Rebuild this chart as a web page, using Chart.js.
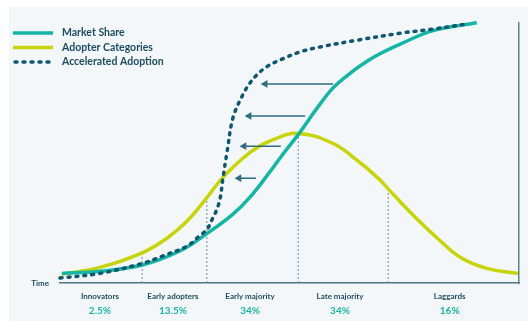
<!DOCTYPE html>
<html>
<head>
<meta charset="utf-8">
<script src="https://cdn.jsdelivr.net/npm/chart.js@4.4.0/dist/chart.umd.min.js"></script>
<style>
  html, body { margin: 0; padding: 0; background: #ffffff; }
  #panel { position: absolute; left: 9px; top: 7px; width: 519px; height: 314px; background: #f3f7f9; }
</style>
</head>
<body>
<div id="panel"><canvas id="adoptionChart" width="519" height="314"></canvas></div>
<script>
// time runs 0..100 along the x axis, share 0..100 up the y axis
const categories = ['Innovators', 'Early adopters', 'Early majority', 'Late majority', 'Laggards'];
const categoryShares = ['2.5%', '13.5%', '34%', '34%', '16%'];
const categoryCenters = [8.7, 24.6, 41.4, 61.0, 84.9];

const dividerTimes = [17.9, 32.0, 51.9, 71.5];
const dividerHeights = [11.6, 32.8, 57.5, 36.2];

const adopterTime = [0.4, 8.7, 17.9, 23.3, 27.7, 32.0, 35.5, 41.4, 45.8, 51.9, 59.5, 64.7, 69.3, 71.7, 76.3, 82.1, 87.1, 93.0, 99.8];
const adopterValues = [3.4, 6.0, 11.6, 17.2, 23.8, 32.8, 40.6, 50.2, 54.6, 57.5, 53.6, 47.2, 40.3, 35.8, 27.2, 17.4, 10.0, 5.6, 3.7];

const shareTime = [0.4, 8.7, 17.9, 26.1, 32.0, 37.7, 41.4, 45.8, 48.6, 52.1, 56.0, 59.5, 63.2, 66.9, 69.7, 74.1, 81.3, 90.8];
const shareValues = [3.7, 4.5, 6.9, 12.3, 19.0, 26.5, 33.0, 42.9, 49.6, 57.5, 67.2, 75.0, 80.6, 85.2, 88.1, 91.8, 97.0, 100];

const acceleratedTime = [0, 8.7, 17.9, 22.4, 27.7, 30.5, 32.0, 33.3, 34.2, 34.9, 35.5, 36.4, 37.7, 39.9, 41.4, 42.9, 45.1, 48.6, 52.3, 56.6, 64.7, 74.1, 81.3, 87.8];
const acceleratedValues = [1.9, 3.7, 7.5, 10.4, 14.2, 18.3, 20.5, 25.0, 28.4, 32.6, 40.3, 50.4, 63.6, 72.6, 76.9, 80.0, 83.2, 86.2, 88.8, 90.7, 93.3, 96.0, 97.6, 99.3];

// arrows: head (left) and tail (right) at a given level
const arrowHeads = [44.7, 41.2, 40.1, 39.0];
const arrowTails = [59.5, 53.4, 48.1, 42.7];
const arrowLevels = [76.5, 64.2, 52.6, 40.3];

const TEAL = '#14b5a5';
const LIME = '#c8d40a';
const DARK = '#0f5670';
const ARROW = '#2f6c80';
const TEXT = '#1e4d63';

const toPoints = (xs, ys) => xs.map((x, i) => ({ x, y: ys[i] }));

const datasets = [
  {
    label: 'Market Share',
    data: toPoints(shareTime, shareValues),
    borderColor: TEAL,
    borderWidth: 3.5,
    tension: 0.4,
    pointRadius: 0,
    clip: false,
    order: 2
  },
  {
    label: 'Adopter Categories',
    data: toPoints(adopterTime, adopterValues),
    borderColor: LIME,
    borderWidth: 3.5,
    tension: 0.4,
    pointRadius: 0,
    clip: false,
    order: 3
  },
  {
    label: 'Accelerated Adoption',
    data: toPoints(acceleratedTime, acceleratedValues),
    borderColor: DARK,
    borderWidth: 3.5,
    borderDash: [2, 6],
    borderCapStyle: 'round',
    tension: 0.35,
    pointRadius: 0,
    clip: false,
    order: 1
  }
];

dividerTimes.forEach((t, i) => {
  datasets.push({
    label: 'divider',
    data: [{ x: t, y: 0 }, { x: t, y: dividerHeights[i] }],
    borderColor: '#6b8e9b',
    borderWidth: 1,
    borderDash: [2, 2],
    pointRadius: 0,
    order: 4
  });
});

arrowHeads.forEach((h, i) => {
  datasets.push({
    label: 'arrow',
    data: [{ x: h, y: arrowLevels[i] }, { x: arrowTails[i], y: arrowLevels[i] }],
    borderColor: ARROW,
    borderWidth: 1.5,
    pointStyle: 'triangle',
    pointRotation: -90,
    pointRadius: ctx => ctx.dataIndex === 0 ? 4.5 : 0,
    pointBackgroundColor: ARROW,
    pointBorderWidth: 0,
    order: 0
  });
});

// legend drawn in the empty top-left corner of the plot
const legendRows = [
  { text: 'Market Share', color: TEAL, dash: [] },
  { text: 'Adopter Categories', color: LIME, dash: [] },
  { text: 'Accelerated Adoption', color: DARK, dash: [2, 6] }
];

const cornerLegend = {
  id: 'cornerLegend',
  afterDraw(chart) {
    const ctx = chart.ctx;
    ctx.save();
    legendRows.forEach((row, i) => {
      const y = 26 + i * 14.5;
      ctx.beginPath();
      ctx.setLineDash(row.dash);
      ctx.lineWidth = 3.5;
      ctx.lineCap = row.dash.length ? 'round' : 'butt';
      ctx.strokeStyle = row.color;
      ctx.moveTo(row.dash.length ? 6 : 4, y);
      ctx.lineTo(44, y);
      ctx.stroke();
      ctx.setLineDash([]);
      ctx.fillStyle = TEXT;
      ctx.font = 'bold 10.5px Lato';
      ctx.textBaseline = 'middle';
      ctx.fillText(row.text, 53, y);
    });
    ctx.restore();
  }
};

Chart.defaults.font.family = 'Lato';

new Chart(document.getElementById('adoptionChart'), {
  type: 'line',
  data: { datasets },
  plugins: [cornerLegend],
  options: {
    responsive: false,
    animation: false,
    events: [],
    layout: { padding: { top: 8, right: 9, left: 0, bottom: 0 } },
    plugins: { legend: { display: false }, tooltip: { enabled: false } },
    scales: {
      x: {
        type: 'linear',
        position: 'bottom',
        min: 0,
        max: 100,
        weight: 0,
        grid: { display: false, drawTicks: false },
        border: { display: true, color: '#4d7584', width: 1.5 },
        afterBuildTicks: axis => { axis.ticks = categoryCenters.map(v => ({ value: v })); },
        afterFit: axis => { axis.height = 18; },
        ticks: {
          autoSkip: false,
          maxRotation: 0,
          padding: 9,
          color: TEXT,
          font: { size: 8, weight: 'bold' },
          callback: (v, i) => categories[i]
        }
      },
      x2: {
        type: 'linear',
        position: 'bottom',
        min: 0,
        max: 100,
        weight: 1,
        grid: { display: false, drawTicks: false },
        border: { display: false },
        afterBuildTicks: axis => { axis.ticks = categoryCenters.map(v => ({ value: v })); },
        afterFit: axis => { axis.height = 20; },
        ticks: {
          autoSkip: false,
          maxRotation: 0,
          padding: 4,
          color: '#1bb3a5',
          font: { size: 10, weight: 'bold' },
          callback: (v, i) => categoryShares[i]
        }
      },
      y: {
        type: 'linear',
        position: 'left',
        min: 0,
        max: 100,
        grid: { display: false, drawTicks: false },
        border: { display: false },
        afterBuildTicks: axis => { axis.ticks = [{ value: 0 }]; },
        afterFit: axis => { axis.width = 51; },
        ticks: {
          padding: 11,
          color: TEXT,
          font: { size: 8, weight: 'bold' },
          callback: () => 'Time'
        }
      },
      yRight: {
        type: 'linear',
        position: 'right',
        min: 0,
        max: 100,
        grid: { display: false, drawTicks: false },
        border: { display: true, color: '#5b8490', width: 1.5 },
        ticks: { display: false },
        afterFit: axis => { axis.width = 0; }
      }
    }
  }
});
</script>
</body>
</html>
